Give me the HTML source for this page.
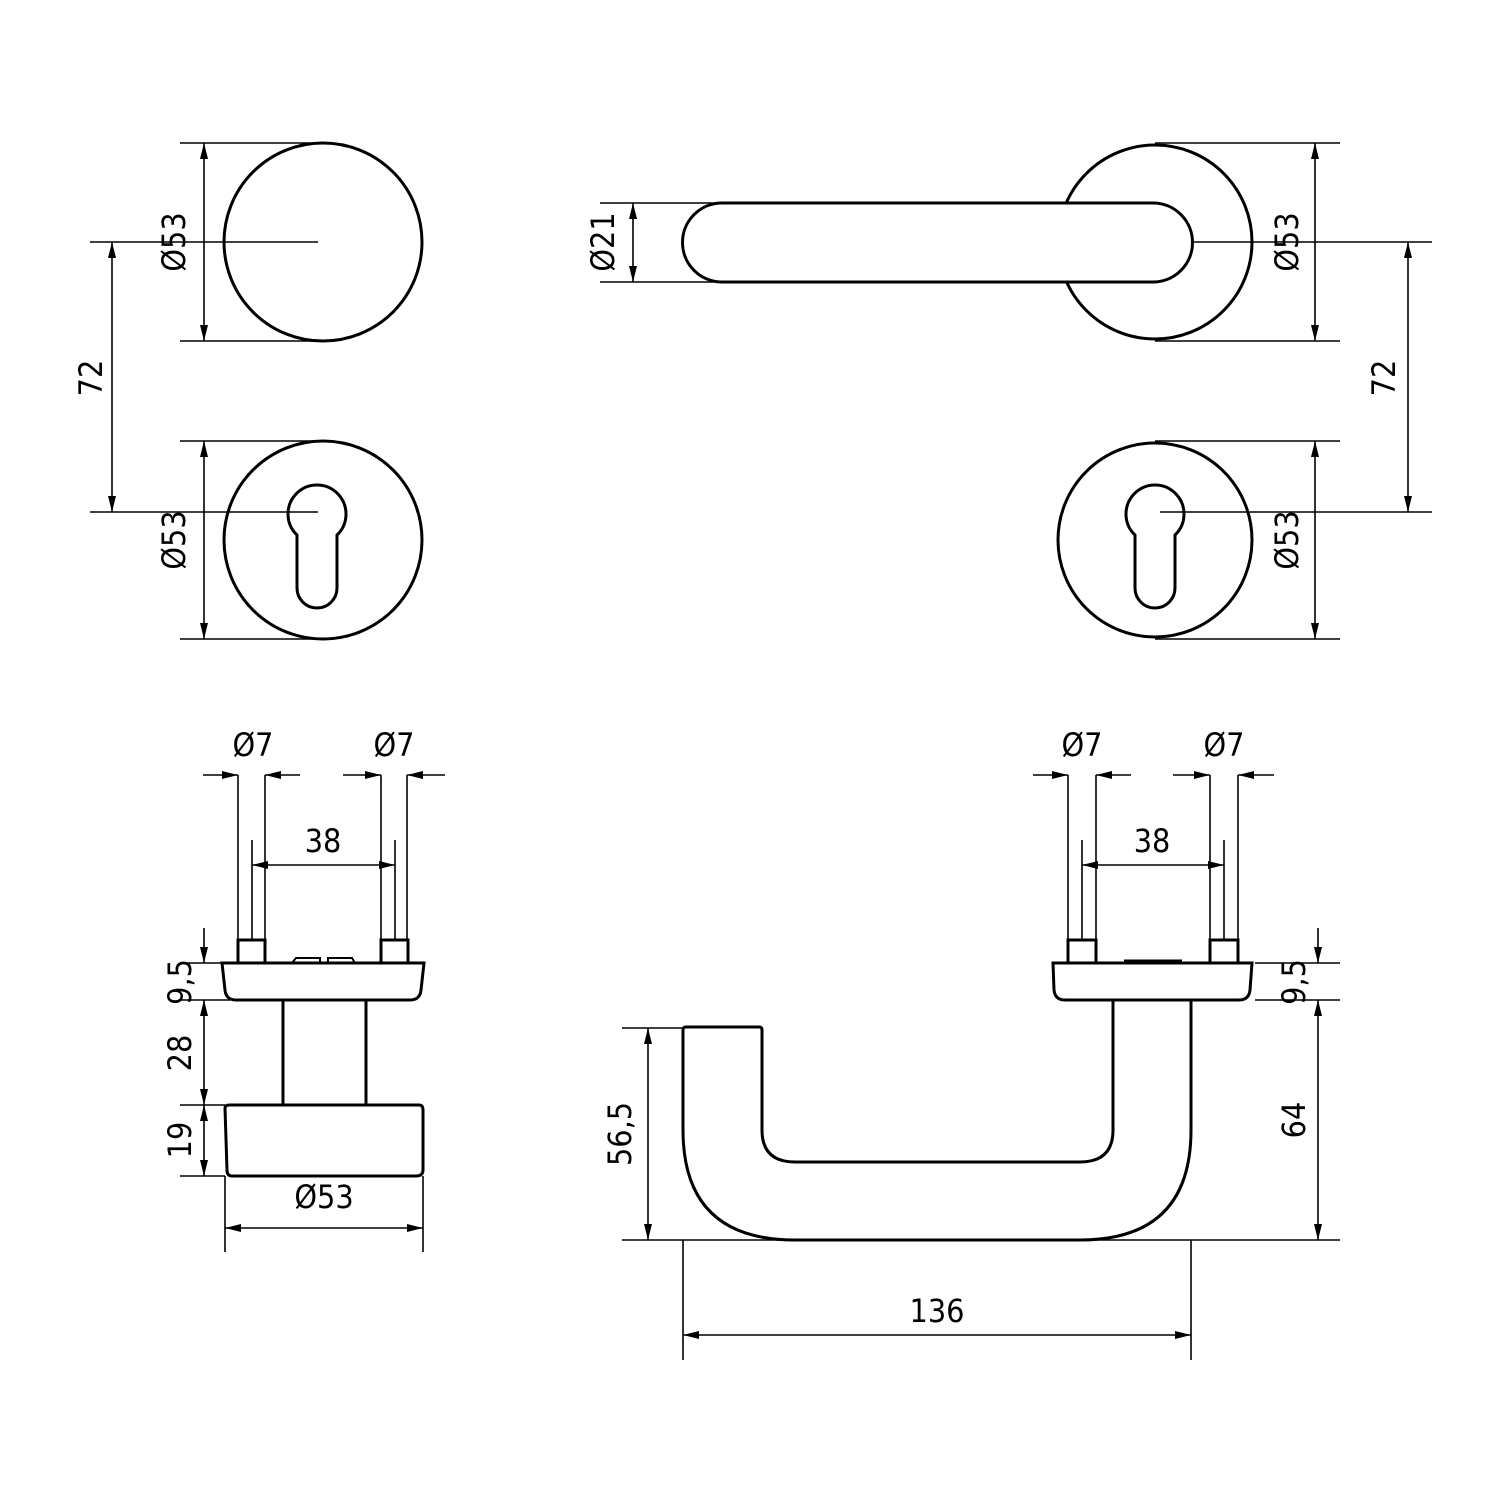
<!DOCTYPE html>
<html><head><style>html,body{margin:0;padding:0;background:#fff}svg{display:block}
text{font-family:"DejaVu Sans Condensed","Liberation Sans",sans-serif;font-size:32px;fill:#000}</style></head>
<body>
<svg width="1500" height="1500" viewBox="0 0 1500 1500" xmlns="http://www.w3.org/2000/svg">
<defs>
<marker id="a" viewBox="0 0 16 8" refX="16" refY="4" markerWidth="16" markerHeight="8" markerUnits="userSpaceOnUse" orient="auto-start-reverse"><path d="M0,0 L16,4 L0,8z" fill="#000"/></marker>
</defs>
<g fill="none" stroke="#000" stroke-width="1.6">
<!-- top-left rose dims -->
<line x1="180" y1="143" x2="323" y2="143"/><line x1="180" y1="341" x2="323" y2="341"/>
<line x1="204" y1="143" x2="204" y2="341" marker-start="url(#a)" marker-end="url(#a)"/>
<line x1="90" y1="242" x2="318" y2="242"/>
<line x1="90" y1="512" x2="318" y2="512"/>
<line x1="112" y1="242" x2="112" y2="512" marker-start="url(#a)" marker-end="url(#a)"/>
<line x1="180" y1="441" x2="323" y2="441"/><line x1="180" y1="639" x2="323" y2="639"/>
<line x1="204" y1="441" x2="204" y2="639" marker-start="url(#a)" marker-end="url(#a)"/>
<!-- top-right dims -->
<line x1="600" y1="203" x2="720" y2="203"/><line x1="600" y1="282" x2="720" y2="282"/>
<line x1="633" y1="203" x2="633" y2="282" marker-start="url(#a)" marker-end="url(#a)"/>
<line x1="1155" y1="143" x2="1340" y2="143"/><line x1="1155" y1="341" x2="1340" y2="341"/>
<line x1="1315" y1="143" x2="1315" y2="341" marker-start="url(#a)" marker-end="url(#a)"/>
<line x1="1160" y1="242" x2="1432" y2="242"/>
<line x1="1160" y1="512" x2="1432" y2="512"/>
<line x1="1408" y1="242" x2="1408" y2="512" marker-start="url(#a)" marker-end="url(#a)"/>
<line x1="1155" y1="441" x2="1340" y2="441"/><line x1="1155" y1="639" x2="1340" y2="639"/>
<line x1="1315" y1="441" x2="1315" y2="639" marker-start="url(#a)" marker-end="url(#a)"/>
<!-- bottom-left dims -->
<line x1="238" y1="775" x2="238" y2="940"/><line x1="265" y1="775" x2="265" y2="940"/>
<line x1="381" y1="775" x2="381" y2="940"/><line x1="407" y1="775" x2="407" y2="940"/>
<line x1="252" y1="840" x2="252" y2="940"/><line x1="395" y1="840" x2="395" y2="940"/>
<line x1="203" y1="775" x2="238" y2="775" marker-end="url(#a)"/><line x1="300" y1="775" x2="265" y2="775" marker-end="url(#a)"/>
<line x1="343" y1="775" x2="381" y2="775" marker-end="url(#a)"/><line x1="445" y1="775" x2="407" y2="775" marker-end="url(#a)"/>
<line x1="252" y1="865" x2="395" y2="865" marker-start="url(#a)" marker-end="url(#a)"/>
<line x1="180" y1="963" x2="222" y2="963"/><line x1="180" y1="1000" x2="230" y2="1000"/>
<line x1="180" y1="1105" x2="225" y2="1105"/><line x1="180" y1="1176" x2="225" y2="1176"/>
<line x1="204" y1="928" x2="204" y2="963" marker-end="url(#a)"/>
<line x1="204" y1="1000" x2="204" y2="1105" marker-start="url(#a)" marker-end="url(#a)"/>
<line x1="204" y1="1105" x2="204" y2="1176" marker-start="url(#a)" marker-end="url(#a)"/>
<line x1="225" y1="1176" x2="225" y2="1252"/><line x1="423" y1="1176" x2="423" y2="1252"/>
<line x1="225" y1="1228" x2="423" y2="1228" marker-start="url(#a)" marker-end="url(#a)"/>
<!-- bottom-right dims -->
<line x1="1068" y1="775" x2="1068" y2="940"/><line x1="1096" y1="775" x2="1096" y2="940"/>
<line x1="1210" y1="775" x2="1210" y2="940"/><line x1="1238" y1="775" x2="1238" y2="940"/>
<line x1="1082" y1="840" x2="1082" y2="940"/><line x1="1224" y1="840" x2="1224" y2="940"/>
<line x1="1033" y1="775" x2="1068" y2="775" marker-end="url(#a)"/><line x1="1131" y1="775" x2="1096" y2="775" marker-end="url(#a)"/>
<line x1="1173" y1="775" x2="1210" y2="775" marker-end="url(#a)"/><line x1="1274" y1="775" x2="1238" y2="775" marker-end="url(#a)"/>
<line x1="1082" y1="865" x2="1224" y2="865" marker-start="url(#a)" marker-end="url(#a)"/>
<line x1="1255" y1="963" x2="1340" y2="963"/><line x1="1255" y1="1000" x2="1340" y2="1000"/>
<line x1="1318" y1="928" x2="1318" y2="963" marker-end="url(#a)"/>
<line x1="1318" y1="1000" x2="1318" y2="1240" marker-start="url(#a)" marker-end="url(#a)"/>
<line x1="622" y1="1240" x2="1340" y2="1240"/><line x1="622" y1="1028" x2="683" y2="1028"/>
<line x1="648" y1="1028" x2="648" y2="1240" marker-start="url(#a)" marker-end="url(#a)"/>
<line x1="683" y1="1240" x2="683" y2="1360"/><line x1="1191" y1="1240" x2="1191" y2="1360"/>
<line x1="683" y1="1335" x2="1191" y2="1335" marker-start="url(#a)" marker-end="url(#a)"/>
</g>
<g fill="none" stroke="#000" stroke-width="3">
<circle cx="323" cy="242" r="99"/>
<circle cx="323" cy="540" r="99"/>
<path d="M297,535 A29,29 0 1 1 337,535 L337,588 A20,20 0 0 1 297,588 Z"/>
<circle cx="1155" cy="242" r="97"/>
<path d="M722,203 L1153,203 A39.5,39.5 0 0 1 1153,282 L722,282 A39.5,39.5 0 0 1 722,203 Z" fill="#fff"/>
<circle cx="1155" cy="540" r="97"/>
<path d="M1135,535 A29,29 0 1 1 1175,535 L1175,588 A20,20 0 0 1 1135,588 Z"/>
<!-- left side view -->
<rect x="238" y="940" width="27" height="23"/><rect x="381" y="940" width="27" height="23"/>
<path d="M222,963 L424,963 L421,990 Q420,1000 410,1000 L236,1000 Q226,1000 225,990 Z"/>
<line x1="283" y1="1000" x2="283" y2="1105"/><line x1="366" y1="1000" x2="366" y2="1105"/>
<path d="M225,1108 Q225,1105 230,1105 L419,1105 Q423,1105 423,1110 L423,1170 Q423,1176 416,1176 L232,1176 Q227,1176 227,1170 Z"/>
<path d="M292,963 L296,958 L320,958 L320,963 M328,963 L328,958 L352,958 L355,963" stroke-width="2"/>
<!-- right side view -->
<rect x="1068" y="940" width="28" height="23"/><rect x="1210" y="940" width="28" height="23"/>
<path d="M1053,963 L1252,963 L1250,990 Q1249,1000 1239,1000 L1065,1000 Q1055,1000 1054,990 Z"/>
<line x1="1124" y1="962" x2="1182" y2="962" stroke-width="5"/>
<path d="M1113,1000 L1113,1130 Q1113,1162 1080,1162 L795,1162 Q762,1162 762,1130 L762,1030 Q762,1027 759,1027 L686,1027 Q683,1027 683,1030 L683,1130 Q683,1240 795,1240 L1080,1240 Q1191,1240 1191,1130 L1191,1000"/>
</g>
<g>
<text transform="translate(185,242) rotate(-90)" text-anchor="middle">Ø53</text>
<text transform="translate(102,378) rotate(-90)" text-anchor="middle">72</text>
<text transform="translate(185,540) rotate(-90)" text-anchor="middle">Ø53</text>
<text transform="translate(614,242) rotate(-90)" text-anchor="middle">Ø21</text>
<text transform="translate(1298,242) rotate(-90)" text-anchor="middle">Ø53</text>
<text transform="translate(1395,378) rotate(-90)" text-anchor="middle">72</text>
<text transform="translate(1298,540) rotate(-90)" text-anchor="middle">Ø53</text>
<text x="253" y="756" text-anchor="middle">Ø7</text>
<text x="394" y="756" text-anchor="middle">Ø7</text>
<text x="323" y="852" text-anchor="middle">38</text>
<text x="1082" y="756" text-anchor="middle">Ø7</text>
<text x="1224" y="756" text-anchor="middle">Ø7</text>
<text x="1152" y="852" text-anchor="middle">38</text>
<text transform="translate(191,982) rotate(-90)" text-anchor="middle">9,5</text>
<text transform="translate(191,1053) rotate(-90)" text-anchor="middle">28</text>
<text transform="translate(191,1140) rotate(-90)" text-anchor="middle">19</text>
<text x="324" y="1208" text-anchor="middle">Ø53</text>
<text transform="translate(631,1134) rotate(-90)" text-anchor="middle">56,5</text>
<text transform="translate(1305,982) rotate(-90)" text-anchor="middle">9,5</text>
<text transform="translate(1305,1120) rotate(-90)" text-anchor="middle">64</text>
<text x="937" y="1322" text-anchor="middle">136</text>
</g>
</svg>
</body></html>
